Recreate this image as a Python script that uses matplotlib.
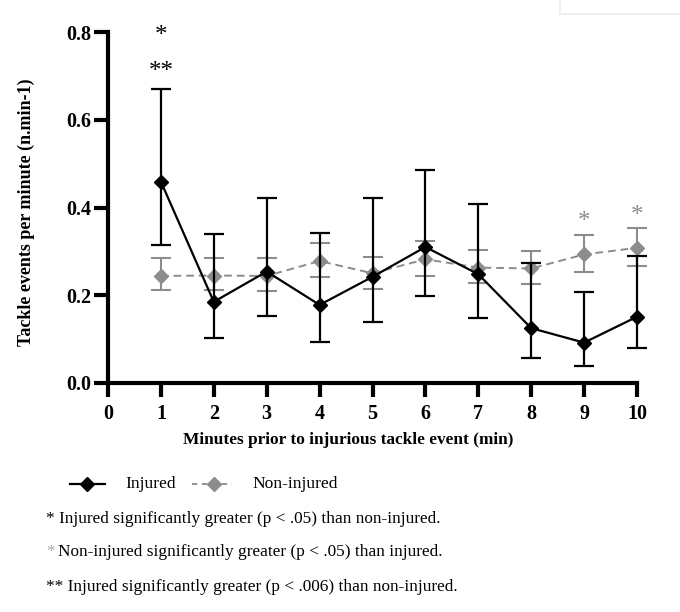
import matplotlib
matplotlib.use("Agg")
import matplotlib.pyplot as plt
from matplotlib.lines import Line2D
from matplotlib.patches import Rectangle

minutes = [1, 2, 3, 4, 5, 6, 7, 8, 9, 10]
injured = [0.459, 0.185, 0.254, 0.178, 0.242, 0.310, 0.248, 0.125, 0.092, 0.151]
injured_upper = [0.669, 0.339, 0.421, 0.341, 0.422, 0.485, 0.409, 0.273, 0.208, 0.289]
injured_lower = [0.314, 0.102, 0.153, 0.094, 0.138, 0.198, 0.149, 0.056, 0.039, 0.079]
noninj = [0.244, 0.245, 0.244, 0.278, 0.250, 0.282, 0.263, 0.261, 0.293, 0.308]
noninj_upper = [0.284, 0.285, 0.285, 0.320, 0.288, 0.324, 0.303, 0.301, 0.337, 0.354]
noninj_lower = [0.212, 0.212, 0.210, 0.241, 0.214, 0.244, 0.227, 0.225, 0.254, 0.267]
xticks = list(range(0, 11))
yticks = [0.0, 0.2, 0.4, 0.6, 0.8]
ytick_labels = ["0.0", "0.2", "0.4", "0.6", "0.8"]

BLACK = "black"
GRAY = "#8c8c8c"
SERIF = ["Liberation Serif", "DejaVu Serif"]

plt.rcParams['font.family'] = SERIF

fig = plt.figure(figsize=(6.8, 6.12), dpi=100)
ax = fig.add_axes([108/680, 1-383/612, (637-108)/680, (383-32)/612])

ni_err = [[m - l for m, l in zip(noninj, noninj_lower)], [u - m for m, u in zip(noninj, noninj_upper)]]
in_err = [[m - l for m, l in zip(injured, injured_lower)], [u - m for m, u in zip(injured, injured_upper)]]

ax.errorbar(minutes, noninj, yerr=ni_err, color=GRAY, ecolor=GRAY, linestyle=(0, (4, 2.5)),
            linewidth=1.4, marker='D', markersize=7.5, capsize=7.5, elinewidth=1.5, capthick=1.5,
            zorder=2, clip_on=False)
ax.errorbar(minutes, injured, yerr=in_err, color=BLACK, ecolor=BLACK, linestyle='-',
            linewidth=1.6, marker='D', markersize=7.5, capsize=7.5, elinewidth=1.6, capthick=1.6,
            zorder=3, clip_on=False)

ax.set_xlim(0, 10)
ax.set_ylim(0, 0.8)
ax.set_xticks(xticks)
ax.set_yticks(yticks)
ax.set_yticklabels(ytick_labels)
for s in ['top', 'right']:
    ax.spines[s].set_visible(False)
for s in ['left', 'bottom']:
    ax.spines[s].set_linewidth(3)
ax.tick_params(axis='both', direction='out', length=10, width=3, labelsize=14.5)
ax.tick_params(axis='x', pad=5)
ax.tick_params(axis='y', pad=2)
for lab in ax.get_xticklabels() + ax.get_yticklabels():
    lab.set_fontweight('bold')

fig.text(26/680, 1-212/612, "Tackle events per minute (n.min-1)", rotation=90, ha='center', va='center',
         fontsize=13, fontweight='bold')

# significance markers
ax.text(1, 0.79, "*", ha='center', va='center', fontsize=18, color=BLACK, clip_on=False)
ax.text(1, 0.708, "**", ha='center', va='center', fontsize=18, color=BLACK, clip_on=False)
ax.text(9, 0.368, "*", ha='center', va='center', fontsize=18, color=GRAY)
ax.text(10, 0.380, "*", ha='center', va='center', fontsize=18, color=GRAY)

fig.text(348/680, 1-440/612, "Minutes prior to injurious tackle event (min)", ha='center', va='center',
         fontsize=12.4, fontweight='bold')

# legend
ly = 1-484/612
fig.add_artist(Line2D([70/680, 105/680], [ly, ly], color=BLACK, linewidth=1.6, transform=fig.transFigure))
fig.add_artist(Line2D([87/680], [ly], color=BLACK, marker='D', markersize=7.5, linestyle='None', transform=fig.transFigure))
fig.text(125/680, ly, "Injured", ha='left', va='center', fontsize=12.6)
fig.add_artist(Line2D([192/680, 232/680], [ly, ly], color=GRAY, linewidth=1.3, linestyle=(0, (3, 2.5)), transform=fig.transFigure))
fig.add_artist(Line2D([214/680], [ly], color=GRAY, marker='D', markersize=7.5, linestyle='None', transform=fig.transFigure))
fig.text(252/680, ly, "Non-injured", ha='left', va='center', fontsize=12.6)

# footnotes
fig.text(46/680, 1-519/612, "* Injured significantly greater (p < .05) than non-injured.", ha='left', va='center', fontsize=12.4)
fig.text(46/680, 1-552/612, "*", ha='left', va='center', fontsize=12.4, color="#aaaaaa")
fig.text(58/680, 1-552/612, "Non-injured significantly greater (p < .05) than injured.", ha='left', va='center', fontsize=12.4)
fig.text(46/680, 1-587/612, "** Injured significantly greater (p < .006) than non-injured.", ha='left', va='center', fontsize=12.4)

# faint box at top right
fig.add_artist(Rectangle((560/680, 1-14/612), 130/680, 20/612, transform=fig.transFigure,
                         facecolor='white', edgecolor='#ececec', linewidth=1.2))

fig.savefig("out.png", dpi=100)
